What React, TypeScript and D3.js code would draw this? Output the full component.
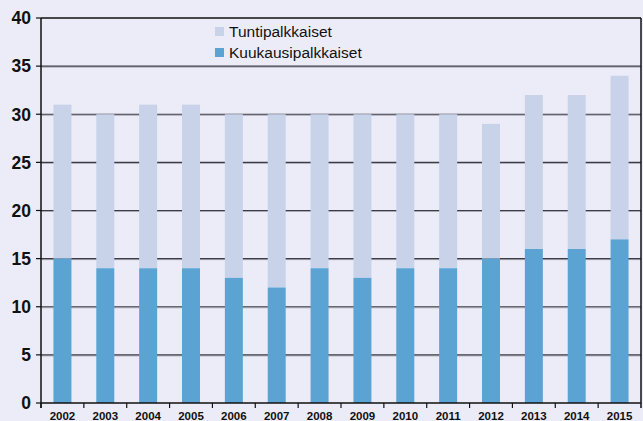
import * as d3 from 'd3';

const years = ['2002', '2003', '2004', '2005', '2006', '2007', '2008', '2009', '2010', '2011', '2012', '2013', '2014', '2015'];
const kuukausi = [15, 14, 14, 14, 13, 12, 14, 13, 14, 14, 15, 16, 16, 17];
const tunti = [16, 16, 17, 17, 17, 18, 16, 17, 16, 16, 14, 16, 16, 17];
const yTicks = [0, 5, 10, 15, 20, 25, 30, 35, 40];

const W = 643;
const H = 421;
const margin = { left: 41, right: 2, top: 18, bottom: 18 };
const BG = '#ececf8';
const LIGHT = '#c8d3ea';
const DARK = '#5ba3d3';

export default function App() {
  const x = d3.scaleBand().domain(years).range([margin.left, W - margin.right]).paddingInner(0.58).paddingOuter(0.29);
  const y = d3.scaleLinear().domain([0, 40]).range([H - margin.bottom, margin.top]);
  const step = x.step();
  const x0 = margin.left;
  const x1 = W - margin.right;

  return (
    <svg width={W} height={H} style={{ position: 'absolute', left: 0, top: 0, background: BG, fontFamily: '"Liberation Sans", Arial, sans-serif' }}>
      <rect width={W} height={H} fill={BG} />
      {/* grid */}
      {yTicks.filter((t) => t > 0 && t < 40).map((t) => (
        <g key={t}>
          <line x1={x0} x2={x1} y1={y(t) + 1} y2={y(t) + 1} stroke="#a8a8b4" strokeWidth={1} />
          <line x1={x0} x2={x1} y1={y(t)} y2={y(t)} stroke="#3c3c44" strokeWidth={1.2} />
        </g>
      ))}
      {/* bars */}
      {years.map((yr, i) => (
        <g key={yr}>
          <rect x={x(yr)} width={x.bandwidth()} y={y(kuukausi[i] + tunti[i])} height={y(kuukausi[i]) - y(kuukausi[i] + tunti[i])} fill={LIGHT} />
          <rect x={x(yr)} width={x.bandwidth()} y={y(kuukausi[i])} height={y(0) - y(kuukausi[i])} fill={DARK} />
        </g>
      ))}
      {/* frame */}
      <line x1={x0} x2={x1} y1={y(40)} y2={y(40)} stroke="#111" strokeWidth={1.5} />
      <line x1={x0} x2={x0} y1={y(40)} y2={y(0) + 5} stroke="#111" strokeWidth={1.5} />
      <line x1={x1} x2={x1} y1={y(40)} y2={y(0) + 5} stroke="#111" strokeWidth={1.5} />
      <line x1={x0} x2={x1} y1={y(0)} y2={y(0)} stroke="#111" strokeWidth={1.5} />
      {yTicks.map((t) => (
        <g key={t}>
          <line x1={x0 - 5} x2={x0} y1={y(t)} y2={y(t)} stroke="#111" strokeWidth={1.2} />
          <text x={31} y={y(t)} dy="0.36em" textAnchor="end" fontSize={17.5} fontWeight="bold" fill="#111">{t}</text>
        </g>
      ))}
      {years.map((yr, i) => (
        <g key={yr}>
          <line x1={x0 + step * i} x2={x0 + step * i} y1={y(0)} y2={y(0) + 5} stroke="#111" strokeWidth={1.2} />
          <text x={(x(yr) ?? 0) + x.bandwidth() / 2} y={H - 1} textAnchor="middle" fontSize={11.5} fontWeight="bold" fill="#111">{yr}</text>
        </g>
      ))}
      {/* legend */}
      <rect x={215} y={27} width={9} height={9} fill={LIGHT} />
      <text x={229} y={36.5} fontSize={15.5} fill="#111">Tuntipalkkaiset</text>
      <rect x={215} y={48} width={9} height={9} fill={DARK} />
      <text x={229} y={58} fontSize={15.5} fill="#111">Kuukausipalkkaiset</text>
    </svg>
  );
}
